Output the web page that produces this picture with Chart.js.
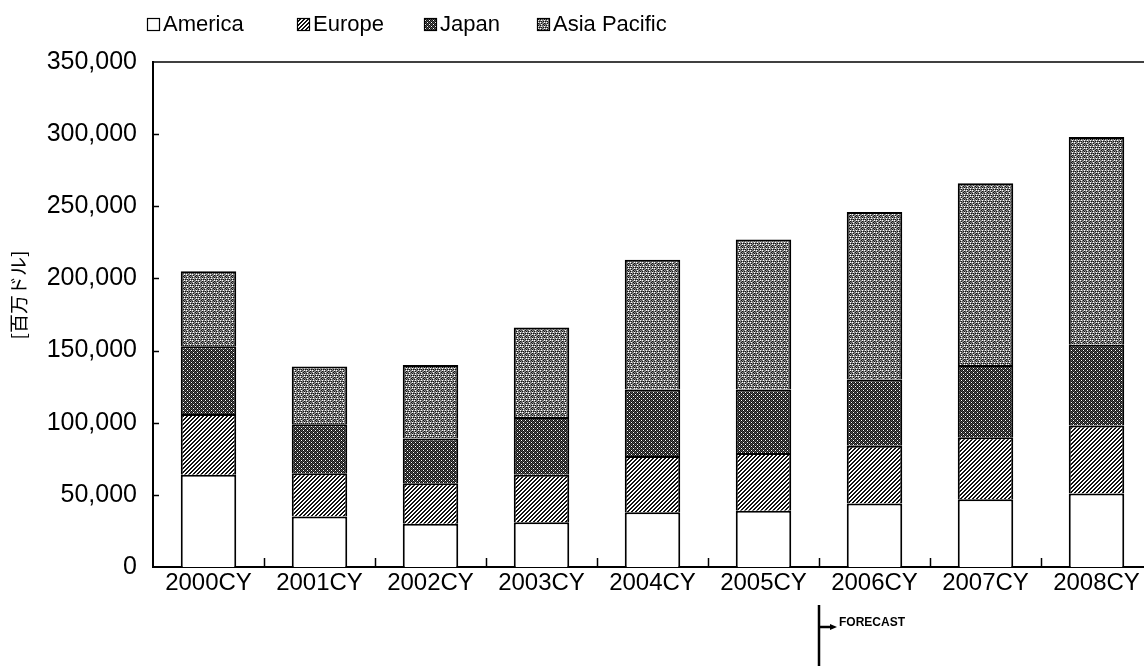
<!DOCTYPE html>
<html>
<head>
<meta charset="utf-8">
<script src="https://cdn.jsdelivr.net/npm/chart.js@4.4.0/dist/chart.umd.min.js"></script>
<style>
  html, body { margin: 0; padding: 0; overflow: hidden; background: #fff; }
  canvas { display: block; }
</style>
</head>
<body>
<canvas id="myChart" width="1160" height="671"></canvas>
<script>
// valores (milhões de dólares)
const years = ['2000CY', '2001CY', '2002CY', '2003CY', '2004CY', '2005CY', '2006CY', '2007CY', '2008CY'];
const america = [64000, 35000, 30000, 31000, 38000, 39000, 44000, 47000, 51000];
const europe = [42000, 30000, 28000, 33000, 39000, 40000, 40000, 43000, 47000];
const japan = [47000, 34000, 31000, 40000, 46000, 44000, 46000, 50000, 56000];
const asiaPacific = [52000, 40000, 51000, 62000, 90000, 104000, 116000, 126000, 144000];
const yMax = 350000;
const yStep = 50000;
const forecastFrom = '2006CY';
const yTitle = '[百万ドル]';

const canvas = document.getElementById('myChart');
const ctx = canvas.getContext('2d');

// texturas em pixels, estilo impressão em preto e branco
function makePattern(rows) {
  const colors = { '#': '#111111', '.': '#ffffff', '-': '#8a8a8a', '+': '#555555' };
  const c = document.createElement('canvas');
  c.width = rows[0].length;
  c.height = rows.length;
  const g = c.getContext('2d');
  rows.forEach((row, y) => {
    for (let x = 0; x < row.length; x++) {
      g.fillStyle = colors[row[x]];
      g.fillRect(x, y, 1, 1);
    }
  });
  return ctx.createPattern(c, 'repeat');
}

const hatchEurope = makePattern([
  '..##',
  '.##.',
  '##..',
  '#..#'
]);
const dotsJapan = makePattern([
  '#.#+',
  '+#+#',
  '#+#.',
  '+#+#'
]);
const greyAsia = makePattern([
  '-.-#-+',
  '#-+-#-',
  '-.--.-',
  '+#-#-#',
  '.-+-.-',
  '-#--#+'
]);

const fontLatin = 'Liberation Sans, Arial, sans-serif';
const legendX = [147, 297, 424, 537];

const decor = {
  id: 'decor',
  afterDraw(chart) {
    const c = chart.ctx;
    const area = chart.chartArea;
    const x = chart.scales.x;
    const y = chart.scales.y;
    c.save();
    c.strokeStyle = '#000';

    // linha superior da área do gráfico
    c.lineWidth = 1.5;
    c.beginPath();
    c.moveTo(area.left, area.top);
    c.lineTo(chart.width, area.top);
    c.stroke();

    // marcas internas do eixo y
    c.lineWidth = 1.5;
    for (let v = yStep; v < yMax; v += yStep) {
      const py = Math.round(y.getPixelForValue(v)) + 0.5;
      c.beginPath();
      c.moveTo(area.left, py);
      c.lineTo(area.left + 6, py);
      c.stroke();
    }
    // marcas internas do eixo x, entre categorias
    for (let i = 1; i < years.length; i++) {
      const px = Math.round((x.getPixelForValue(i - 1) + x.getPixelForValue(i)) / 2) + 0.5;
      c.beginPath();
      c.moveTo(px, area.bottom);
      c.lineTo(px, area.bottom - 9);
      c.stroke();
    }

    // título do eixo y
    c.save();
    c.translate(19, 295);
    c.rotate(-Math.PI / 2);
    c.font = '19px "Noto Sans CJK JP"';
    c.textAlign = 'center';
    c.textBaseline = 'middle';
    c.fillStyle = '#000';
    c.fillText(yTitle, 0, 0);
    c.restore();

    // legenda
    c.font = '22px ' + fontLatin;
    c.textBaseline = 'middle';
    const ly = 24;
    chart.data.datasets.forEach((ds, i) => {
      const lx = legendX[i];
      c.fillStyle = ds.backgroundColor;
      c.fillRect(lx, ly - 6, 13, 13);
      c.lineWidth = 1.2;
      c.strokeRect(lx + 0.5, ly - 6 + 0.5, 12, 12);
      c.fillStyle = '#000';
      c.fillText(ds.label, lx + 16, ly + 1);
    });

    // indicação de previsão
    const fi = years.indexOf(forecastFrom);
    const bx = Math.round((x.getPixelForValue(fi - 1) + x.getPixelForValue(fi)) / 2);
    c.lineWidth = 2.5;
    c.beginPath();
    c.moveTo(bx, 605);
    c.lineTo(bx, 666);
    c.moveTo(bx, 627);
    c.lineTo(bx + 12, 627);
    c.stroke();
    c.beginPath();
    c.moveTo(bx + 18, 627);
    c.lineTo(bx + 11, 624);
    c.lineTo(bx + 11, 630);
    c.closePath();
    c.fill();
    c.font = 'bold 12px ' + fontLatin;
    c.fillText('FORECAST', bx + 20, 623);
    c.restore();
  }
};

const chart = new Chart(canvas, {
  type: 'bar',
  data: {
    labels: years,
    datasets: [
      { label: 'America', data: america, backgroundColor: '#ffffff' },
      { label: 'Europe', data: europe, backgroundColor: hatchEurope },
      { label: 'Japan', data: japan, backgroundColor: dotsJapan },
      { label: 'Asia Pacific', data: asiaPacific, backgroundColor: greyAsia }
    ].map(ds => Object.assign(ds, {
      borderColor: '#000',
      borderWidth: 2,
      barPercentage: 0.5,
      categoryPercentage: 1
    }))
  },
  options: {
    responsive: false,
    animation: false,
    layout: { padding: { top: 62, right: 8, left: 0, bottom: 0 } },
    plugins: { legend: { display: false }, tooltip: { enabled: false } },
    scales: {
      x: {
        stacked: true,
        grid: { display: false, drawTicks: false },
        border: { color: '#000', width: 2 },
        ticks: {
          color: '#000',
          font: { family: fontLatin, size: 24 },
          padding: 2,
          maxRotation: 0,
          autoSkip: false
        },
        afterFit: s => { s.height = 104; }
      },
      y: {
        stacked: true,
        min: 0,
        max: yMax,
        grid: { display: false, drawTicks: false },
        border: { color: '#000', width: 2 },
        ticks: {
          stepSize: yStep,
          color: '#000',
          font: { family: fontLatin, size: 25 },
          padding: 16,
          callback: v => v.toLocaleString('en-US')
        },
        afterFit: s => { s.width = 153; }
      }
    }
  },
  plugins: [decor]
});
</script>
</body>
</html>
